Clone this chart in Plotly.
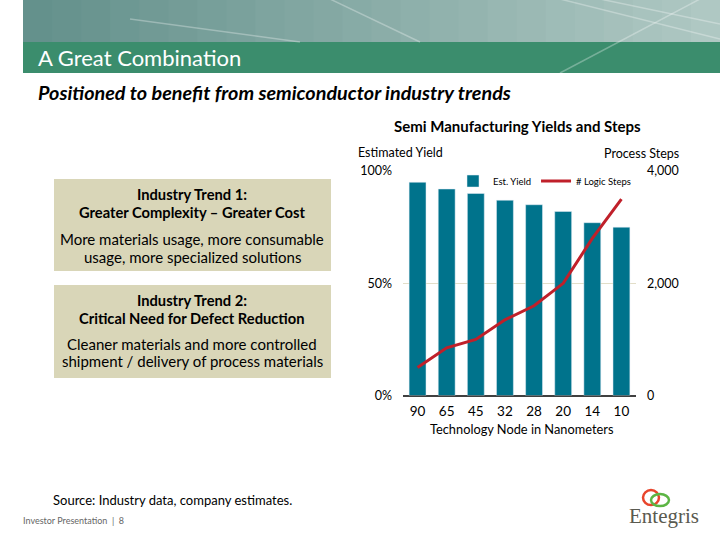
import plotly.graph_objects as go

nodes = ["90", "65", "45", "32", "28", "20", "14", "10"]
est_yield = [0.95, 0.92, 0.90, 0.87, 0.85, 0.82, 0.77, 0.75]
logic_steps = [500, 850, 1000, 1350, 1600, 2000, 2800, 3500]
yield_ticks = [0, 0.5, 1.0]
yield_tick_text = ["0%", "50%", "100%"]
step_ticks = [0, 2000, 4000]
step_tick_text = ["0", "2,000", "4,000"]

W, H = 720, 540
OFF, SC = 0.0, 0.972
FONT = "Lato"

def px(x):
    return x / W

def py(y):
    return 1 - ((y - OFF) / SC) / H

fig = go.Figure()
fig.add_trace(go.Bar(x=nodes, y=est_yield, name="Est. Yield", marker_color="#00738c",
                     width=0.58, yaxis="y"))
fig.add_trace(go.Scatter(x=nodes, y=logic_steps, name="# Logic Steps", mode="lines",
                         line=dict(color="#c0202a", width=3), yaxis="y2"))

shapes = []
n = 24
x0 = 23
for i in range(n):
    t = i / (n - 1)
    r = int(100 + t * 75)
    g = int(145 + t * 55)
    b = int(140 + t * 55)
    xa = x0 + (W - x0) * i / n
    xb = x0 + (W - x0) * (i + 1) / n + 1
    shapes.append(dict(type="rect", xref="paper", yref="paper", x0=px(xa), x1=px(xb),
                       y0=py(43), y1=1, fillcolor=f"rgb({r},{g},{b})", line_width=0, layer="below"))
shapes.append(dict(type="rect", xref="paper", yref="paper", x0=px(x0), x1=1, y0=py(74), y1=py(43),
                   fillcolor="#3b8d6d", line_width=0, layer="below"))
for (a, b_, c, d) in [(330, 0, 420, 43), (560, 0, 720, 40), (700, 0, 560, 74), (130, 20, 300, 43),
                      (600, 0, 720, 25)]:
    shapes.append(dict(type="line", xref="paper", yref="paper", x0=px(a), y0=py(b_), x1=px(c), y1=py(d),
                       line=dict(color="rgba(255,255,255,0.3)", width=1.5), layer="below"))
for (ya, yb) in [(180, 272), (286, 379)]:
    shapes.append(dict(type="rect", xref="paper", yref="paper", x0=px(54), x1=px(331), y0=py(yb), y1=py(ya),
                       fillcolor="#d9d6b8", line_width=0, layer="below"))
shapes.append(dict(type="circle", xref="paper", yref="paper", x0=px(643), x1=px(659), y0=py(506), y1=py(491),
                   line=dict(color="#e8452c", width=2.5)))
shapes.append(dict(type="circle", xref="paper", yref="paper", x0=px(651), x1=px(669), y0=py(507), y1=py(495),
                   line=dict(color="#5cb544", width=2.5)))

ann = []
def text(x, y, s, size, color="#000000", anchor="left", bold=False, italic=False, family=FONT):
    if bold:
        s = "<b>" + s + "</b>"
    if italic:
        s = "<i>" + s + "</i>"
    ann.append(dict(x=px(x), y=py(y), xref="paper", yref="paper", text=s, showarrow=False,
                    xanchor=anchor, yanchor="middle", font=dict(family=family, size=size, color=color)))

text(36, 58, "A Great Combination", 22, "#ffffff")
text(36, 93, "Positioned to benefit from semiconductor industry trends", 19.8, bold=True, italic=True)
text(517, 127, "Semi Manufacturing Yields and Steps", 15, anchor="center", bold=True)
text(356, 153, "Estimated Yield", 12.5)
text(681, 154, "Process Steps", 12.5, anchor="right")
text(522, 430, "Technology Node in Nanometers", 12.8, anchor="center")

text(192, 195, "Industry Trend 1:", 14.7, anchor="center", bold=True)
text(192, 213, "Greater Complexity – Greater Cost", 14.7, anchor="center", bold=True)
text(192, 240, "More materials usage, more consumable", 15, anchor="center")
text(192, 258, "usage, more specialized solutions", 15, anchor="center")
text(192, 301, "Industry Trend 2:", 14.7, anchor="center", bold=True)
text(192, 319, "Critical Need for Defect Reduction", 14.7, anchor="center", bold=True)
text(192, 345, "Cleaner materials and more controlled", 15, anchor="center")
text(192, 362, "shipment / delivery of process materials", 15, anchor="center")

text(51, 501, "Source: Industry data, company estimates.", 13)
text(21, 521, "Investor Presentation  |  8", 9, "#666666")
text(664, 517, "Entegris", 21, "#5a5a50", anchor="center", family="Liberation Serif")

fig.update_layout(
    width=W, height=H, margin=dict(l=0, r=0, t=0, b=0),
    paper_bgcolor="#ffffff", plot_bgcolor="#ffffff",
    font=dict(family=FONT, size=13, color="#000000"),
    bargap=0.4,
    xaxis=dict(domain=[px(403), px(636)], type="category", showgrid=False, showline=False,
               ticks="", tickfont=dict(size=13.5), zeroline=False, ticklabelstandoff=6),
    yaxis=dict(domain=[py(396.5), py(172)], range=[0, 1.0], tickvals=yield_ticks, ticktext=yield_tick_text,
               showgrid=True, gridcolor="#e2dec8", gridwidth=1, zeroline=True, zerolinecolor="#404040",
               zerolinewidth=1.5, showline=False, ticks="", tickfont=dict(size=12.5), ticklabelstandoff=10),
    yaxis2=dict(overlaying="y", side="right", range=[0, 4000], tickvals=step_ticks, ticktext=step_tick_text,
                showgrid=False, zeroline=False, showline=False, ticks="", tickfont=dict(size=12.5),
                ticklabelstandoff=10),
    legend=dict(orientation="h", x=px(636), xanchor="right", y=py(182), yanchor="middle",
                font=dict(size=9.5), bgcolor="rgba(0,0,0,0)", itemwidth=30, tracegroupgap=0),
    shapes=shapes, annotations=ann, showlegend=True,
)

fig.write_html(
    "out.html",
    config={"displayModeBar": False},
    post_script=("var s=document.createElement('style');"
                 "s.textContent='html,body{margin:0!important;padding:0!important;overflow:hidden;}"
                 ".plotly-graph-div{margin-top:-9px!important;}';"
                 "document.head.appendChild(s);"),
)
